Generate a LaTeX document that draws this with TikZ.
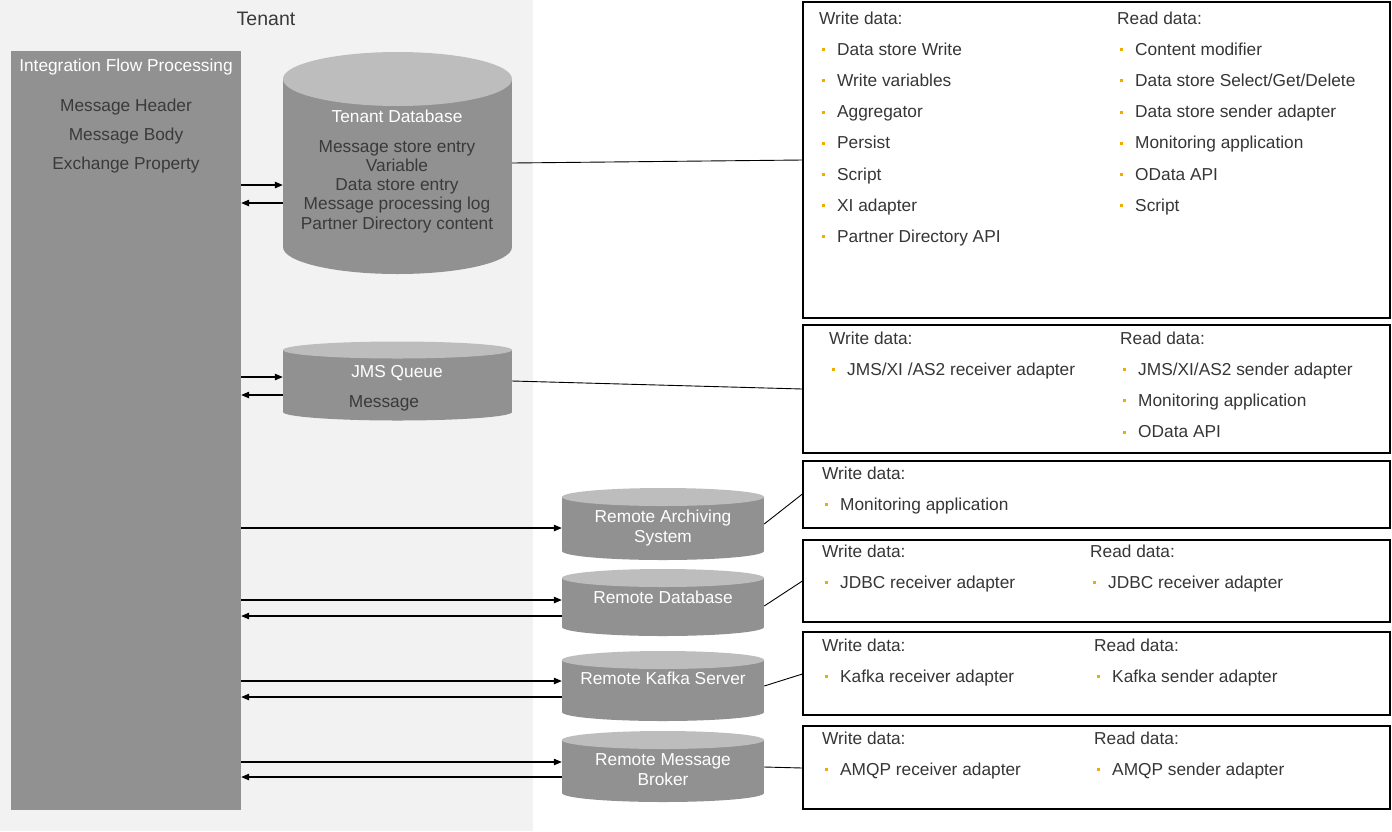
\documentclass[tikz,border=0pt]{standalone}
\usepackage{fontspec}
\setmainfont{Liberation Sans}
\usetikzlibrary{arrows.meta}
\definecolor{tbg}{HTML}{F2F2F2}
\definecolor{gbody}{HTML}{919192}
\definecolor{gtop}{HTML}{BDBDBE}
\definecolor{dtext}{HTML}{3A3A3A}
\definecolor{btext}{HTML}{363636}
\definecolor{bul}{HTML}{F0AB00}
\newcommand\bu{\makebox[15pt][l]{\textcolor{bul}{\rule[4pt]{3pt}{3pt}}}}
\tikzset{
  txt/.style={inner sep=0pt, font=\fontsize{17.3}{19.3}\selectfont, text=dtext},
  wtxt/.style={txt, text=white},
  hdr/.style={txt, text=btext, anchor=base west},
  itm/.style={txt, text=btext, anchor=base west},
  databox/.style={draw=black, line width=1.2pt, fill=white, inner sep=0pt},
  area/.style={inner sep=0pt, draw=none},
  arr/.style={line width=1.1pt, -{Triangle[length=8pt,width=6.5pt]}},
  conn/.style={line width=0.9pt},
}
\newcommand\datacol[5]{%
  \node[hdr] (#1h) at (#2,#3) {#4};
  \foreach \t [count=\i] in {#5}{\node[itm] (#1\i) at ({#2+3},{#3+31.2*\i}) {\bu\t};}
}
\newcommand\cylshape[6]{% name, x1, x2, ytop-centre, ybot-centre, ry
  \fill[gbody] (#2,#4) rectangle (#3,#5);
  \fill[gbody] ({(#2+#3)/2},#5) ellipse [x radius={(#3-#2)/2*1pt}, y radius=#6pt];
  \fill[gtop] ({(#2+#3)/2},#4) ellipse [x radius={(#3-#2)/2*1pt}, y radius=#6pt];
  \node[area, minimum width={#3-#2}, minimum height={#5-#4+2*#6}] (#1) at ({(#2+#3)/2},{(#4+#5)/2}) {};
}
\newcommand\boxat[5]{%
  \node[databox, minimum width={#4-#2}, minimum height={#5-#3}] (#1) at ({(#2+#4)/2},{(#3+#5)/2}) {};
}
\begin{document}
\begin{tikzpicture}[x=1pt,y=-1pt]
\useasboundingbox (0,0) rectangle (1392,831);
\fill[white] (0,0) rectangle (1392,831);
\fill[tbg] (0,0) rectangle (533,831);
\node[txt, font=\fontsize{19.5}{21}\selectfont, anchor=base] (tenant) at (266,25) {Tenant};

% Integration flow processing
\node[fill=gbody, inner sep=0pt, minimum width=230, minimum height=759] (ifp) at (126,430.5) {};
\node[wtxt, anchor=base] (ifpt) at (126,71) {Integration Flow Processing};
\node[txt, anchor=base] (ifp1) at (126,111) {Message Header};
\node[txt, anchor=base] (ifp2) at (126,140) {Message Body};
\node[txt, anchor=base] (ifp3) at (126,169) {Exchange Property};

% cylinders
\cylshape{tdb}{283}{512}{79}{247}{27}
\node[wtxt, anchor=base] (tdbt) at (397,122) {Tenant Database};
\foreach \t [count=\i] in {Message store entry,Variable,Data store entry,Message processing log,Partner Directory content}
  {\node[txt, anchor=base] (tdb\i) at (397,{152+19.3*(\i-1)}) {\t};}

\cylshape{jms}{283}{512}{350}{412}{8.5}
\node[wtxt, anchor=base] (jmst) at (397,377) {JMS Queue};
\node[txt, anchor=base] (jmsm) at (384,407) {Message};

\cylshape{ras}{562}{764}{497}{551}{9}
\node[wtxt, anchor=base] (ras1) at (663,522) {Remote Archiving};
\node[wtxt, anchor=base] (ras2) at (663,542) {System};

\cylshape{rdb}{562}{764}{578}{627}{9}
\node[wtxt, anchor=base] (rdbt) at (663,603) {Remote Database};

\cylshape{rks}{562}{764}{660}{712}{9}
\node[wtxt, anchor=base] (rkst) at (663,684) {Remote Kafka Server};

\cylshape{rmb}{562}{764}{740}{793}{9}
\node[wtxt, anchor=base] (rmb1) at (663,765) {Remote Message};
\node[wtxt, anchor=base] (rmb2) at (663,785) {Broker};

% arrows
\draw[arr] (ifp.east |- 0,185) -- (tdb.west |- 0,185);
\draw[arr] (tdb.west |- 0,203) -- (ifp.east |- 0,203);
\draw[arr] (ifp.east |- 0,377) -- (jms.west |- 0,377);
\draw[arr] (jms.west |- 0,395) -- (ifp.east |- 0,395);
\draw[arr] (ifp.east |- 0,528) -- (ras.west |- 0,528);
\draw[arr] (ifp.east |- 0,600) -- (rdb.west |- 0,600);
\draw[arr] (rdb.west |- 0,616) -- (ifp.east |- 0,616);
\draw[arr] (ifp.east |- 0,681) -- (rks.west |- 0,681);
\draw[arr] (rks.west |- 0,697) -- (ifp.east |- 0,697);
\draw[arr] (ifp.east |- 0,762) -- (rmb.west |- 0,762);
\draw[arr] (rmb.west |- 0,777) -- (ifp.east |- 0,777);

% boxes
\boxat{b1}{803}{2}{1390}{318}
\boxat{b2}{803}{325}{1390}{453}
\boxat{b3}{803}{461}{1390}{528}
\boxat{b4}{803}{540}{1390}{622}
\boxat{b5}{803}{632}{1390}{715}
\boxat{b6}{803}{726}{1390}{809}

% connectors
\draw[conn] (tdb.east |- 0,163) -- (b1.west |- 0,160);
\draw[conn] (jms.east |- 0,381) -- (b2.west |- 0,389);
\draw[conn] (ras.east |- 0,524) -- (b3.west |- 0,494);
\draw[conn] (rdb.east |- 0,606) -- (b4.west |- 0,581);
\draw[conn] (rks.east |- 0,686) -- (b5.west |- 0,674);
\draw[conn] (rmb.east |- 0,767) -- (b6.west |- 0,768);

% box contents
\datacol{b1w}{819}{24}{Write data:}{Data store Write,Write variables,Aggregator,Persist,Script,XI adapter,Partner Directory API}
\datacol{b1r}{1117}{24}{Read data:}{Content modifier,Data store Select/Get/Delete,Data store sender adapter,Monitoring application,OData API,Script}
\datacol{b2w}{829}{344}{Write data:}{JMS/XI /AS2 receiver adapter}
\datacol{b2r}{1120}{344}{Read data:}{JMS/XI/AS2 sender adapter,Monitoring application,OData API}
\datacol{b3w}{822}{479}{Write data:}{Monitoring application}
\datacol{b4w}{822}{557}{Write data:}{JDBC receiver adapter}
\datacol{b4r}{1090}{557}{Read data:}{JDBC receiver adapter}
\datacol{b5w}{822}{651}{Write data:}{Kafka receiver adapter}
\datacol{b5r}{1094}{651}{Read data:}{Kafka sender adapter}
\datacol{b6w}{822}{744}{Write data:}{AMQP receiver adapter}
\datacol{b6r}{1094}{744}{Read data:}{AMQP sender adapter}
\end{tikzpicture}
\end{document}
